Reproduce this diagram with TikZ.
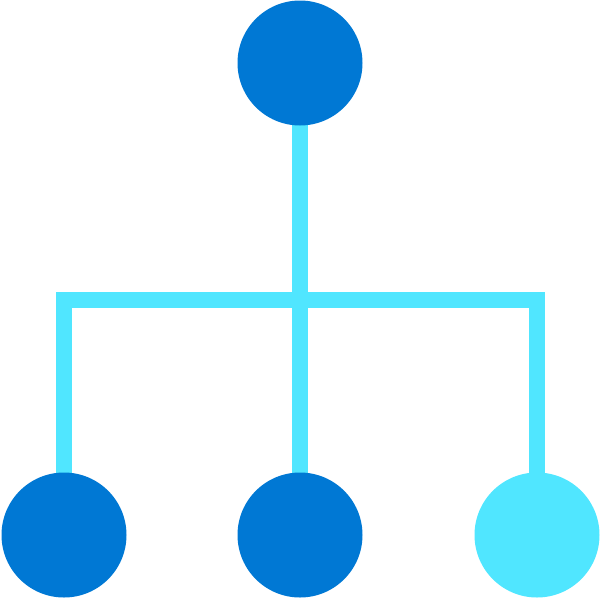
\documentclass[tikz,border=0pt]{standalone}
\usetikzlibrary{backgrounds}
\definecolor{azdark}{HTML}{0078D4}
\definecolor{azlight}{HTML}{50E6FF}
\tikzset{
  disc/.style={circle,minimum size=125pt,inner sep=0pt,fill=#1},
  link/.style={draw=azlight,line width=15.5pt,line join=miter}
}

\begin{document}
\begin{tikzpicture}[x=1pt,y=-1pt]
  \useasboundingbox (0,0) rectangle (600,600);

  \node[disc=azdark] (root) at (300,63) {};
  \node[disc=azdark] (leftleaf) at (64,535) {};
  \node[disc=azdark] (midleaf) at (300,535) {};
  \node[disc=azlight] (rightleaf) at (537,535) {};
  \coordinate (fork) at (300,300);

  \begin{pgfonlayer}{background}
    \draw[link] (root.center) -- (midleaf.center);
    \draw[link] (leftleaf.center) |- (fork) -| (rightleaf.center);
  \end{pgfonlayer}
\end{tikzpicture}
\end{document}
